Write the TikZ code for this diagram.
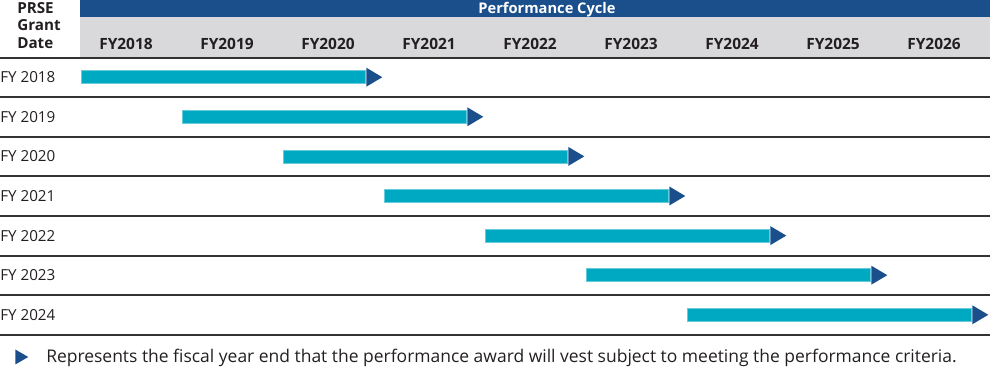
\documentclass[tikz,border=0pt]{standalone}
\usepackage{fontspec}
\setmainfont{Open Sans}
\usetikzlibrary{shapes.geometric}
\definecolor{hdrblue}{HTML}{1B4F8C}
\definecolor{hdrgray}{HTML}{D9D9DC}
\definecolor{barcol}{HTML}{00A9C2}
\definecolor{tricol}{HTML}{1B4F8C}
\definecolor{rulecol}{HTML}{333333}
\definecolor{txtcol}{HTML}{231F20}
\tikzset{
  hdrtitle/.style={text=white,font=\fontsize{11pt}{12pt}\selectfont\bfseries,inner sep=0pt,anchor=base},
  yearhdr/.style={text=txtcol,font=\fontsize{11.6pt}{12pt}\selectfont\bfseries,inner sep=0pt,anchor=base},
  rowlbl/.style={text=txtcol,font=\fontsize{11.4pt}{12pt}\selectfont,inner sep=0pt,anchor=base west},
  barbox/.style={rectangle,fill=barcol,draw=barcol!60!white,line width=0.4pt,inner sep=0pt,minimum height=13*0.75pt,anchor=west},
  tribox/.style={isosceles triangle,isosceles triangle stretches,shape border rotate=0,fill=tricol,inner sep=0pt,minimum width=19*0.75pt,minimum height=16*0.75pt,anchor=west},
  legtri/.style={isosceles triangle,isosceles triangle stretches,shape border rotate=0,fill=tricol,inner sep=0pt,minimum width=15*0.75pt,minimum height=13*0.75pt,anchor=west},
  rowrule/.style={draw=rulecol,line width=1.5pt},
}
\begin{document}
\begin{tikzpicture}[x=0.75pt,y=-0.75pt]
\useasboundingbox (0,0) rectangle (990,370);
% header bands
\fill[hdrblue] (80,0) rectangle (990,17);
\fill[hdrgray] (80,17) rectangle (990,57.5);
\node[hdrtitle] (pc) at (547,14) {Performance Cycle};
\node[text=txtcol,font=\fontsize{11.4pt}{13.1pt}\selectfont\bfseries,align=left,inner sep=0pt,anchor=north west] (grant) at (17,2) {PRSE\\Grant\\Date};
\foreach \k/\yr in {0/2018,1/2019,2/2020,3/2021,4/2022,5/2023,6/2024,7/2025,8/2026}{
  \node[yearhdr] (h\yr) at (126+101*\k,50) {FY\yr};
}
% rules
\draw[rowrule] (0,58) -- (990,58);
\foreach \r/\yy in {1/97.5,2/137,3/176.5,4/216,5/256,6/295.5,7/335}{
  \draw[rowrule] (0,\yy) -- (990,\yy);
}
% rows
\foreach \i/\yr in {0/2018,1/2019,2/2020,3/2021,4/2022,5/2023,6/2024}{
  \pgfmathsetmacro{\cy}{77.2+39.6*\i}
  \node[rowlbl] (r\yr) at (0,\cy+5.5) {FY \yr};
  \node[barbox,minimum width=284*0.75pt] (b\yr) at (80.5+101*\i,\cy) {};
  \node[tribox] (t\yr) at ([xshift=1*0.75pt]b\yr.east) {};
}
% legend
\node[legtri] (lt) at (15,357) {};
\node[text=txtcol,font=\fontsize{13.1pt}{15pt}\selectfont,inner sep=0pt,anchor=base west] (lg) at (46,363) {Represents the fiscal year end that the performance award will vest subject to meeting the performance criteria.};
\end{tikzpicture}
\end{document}
